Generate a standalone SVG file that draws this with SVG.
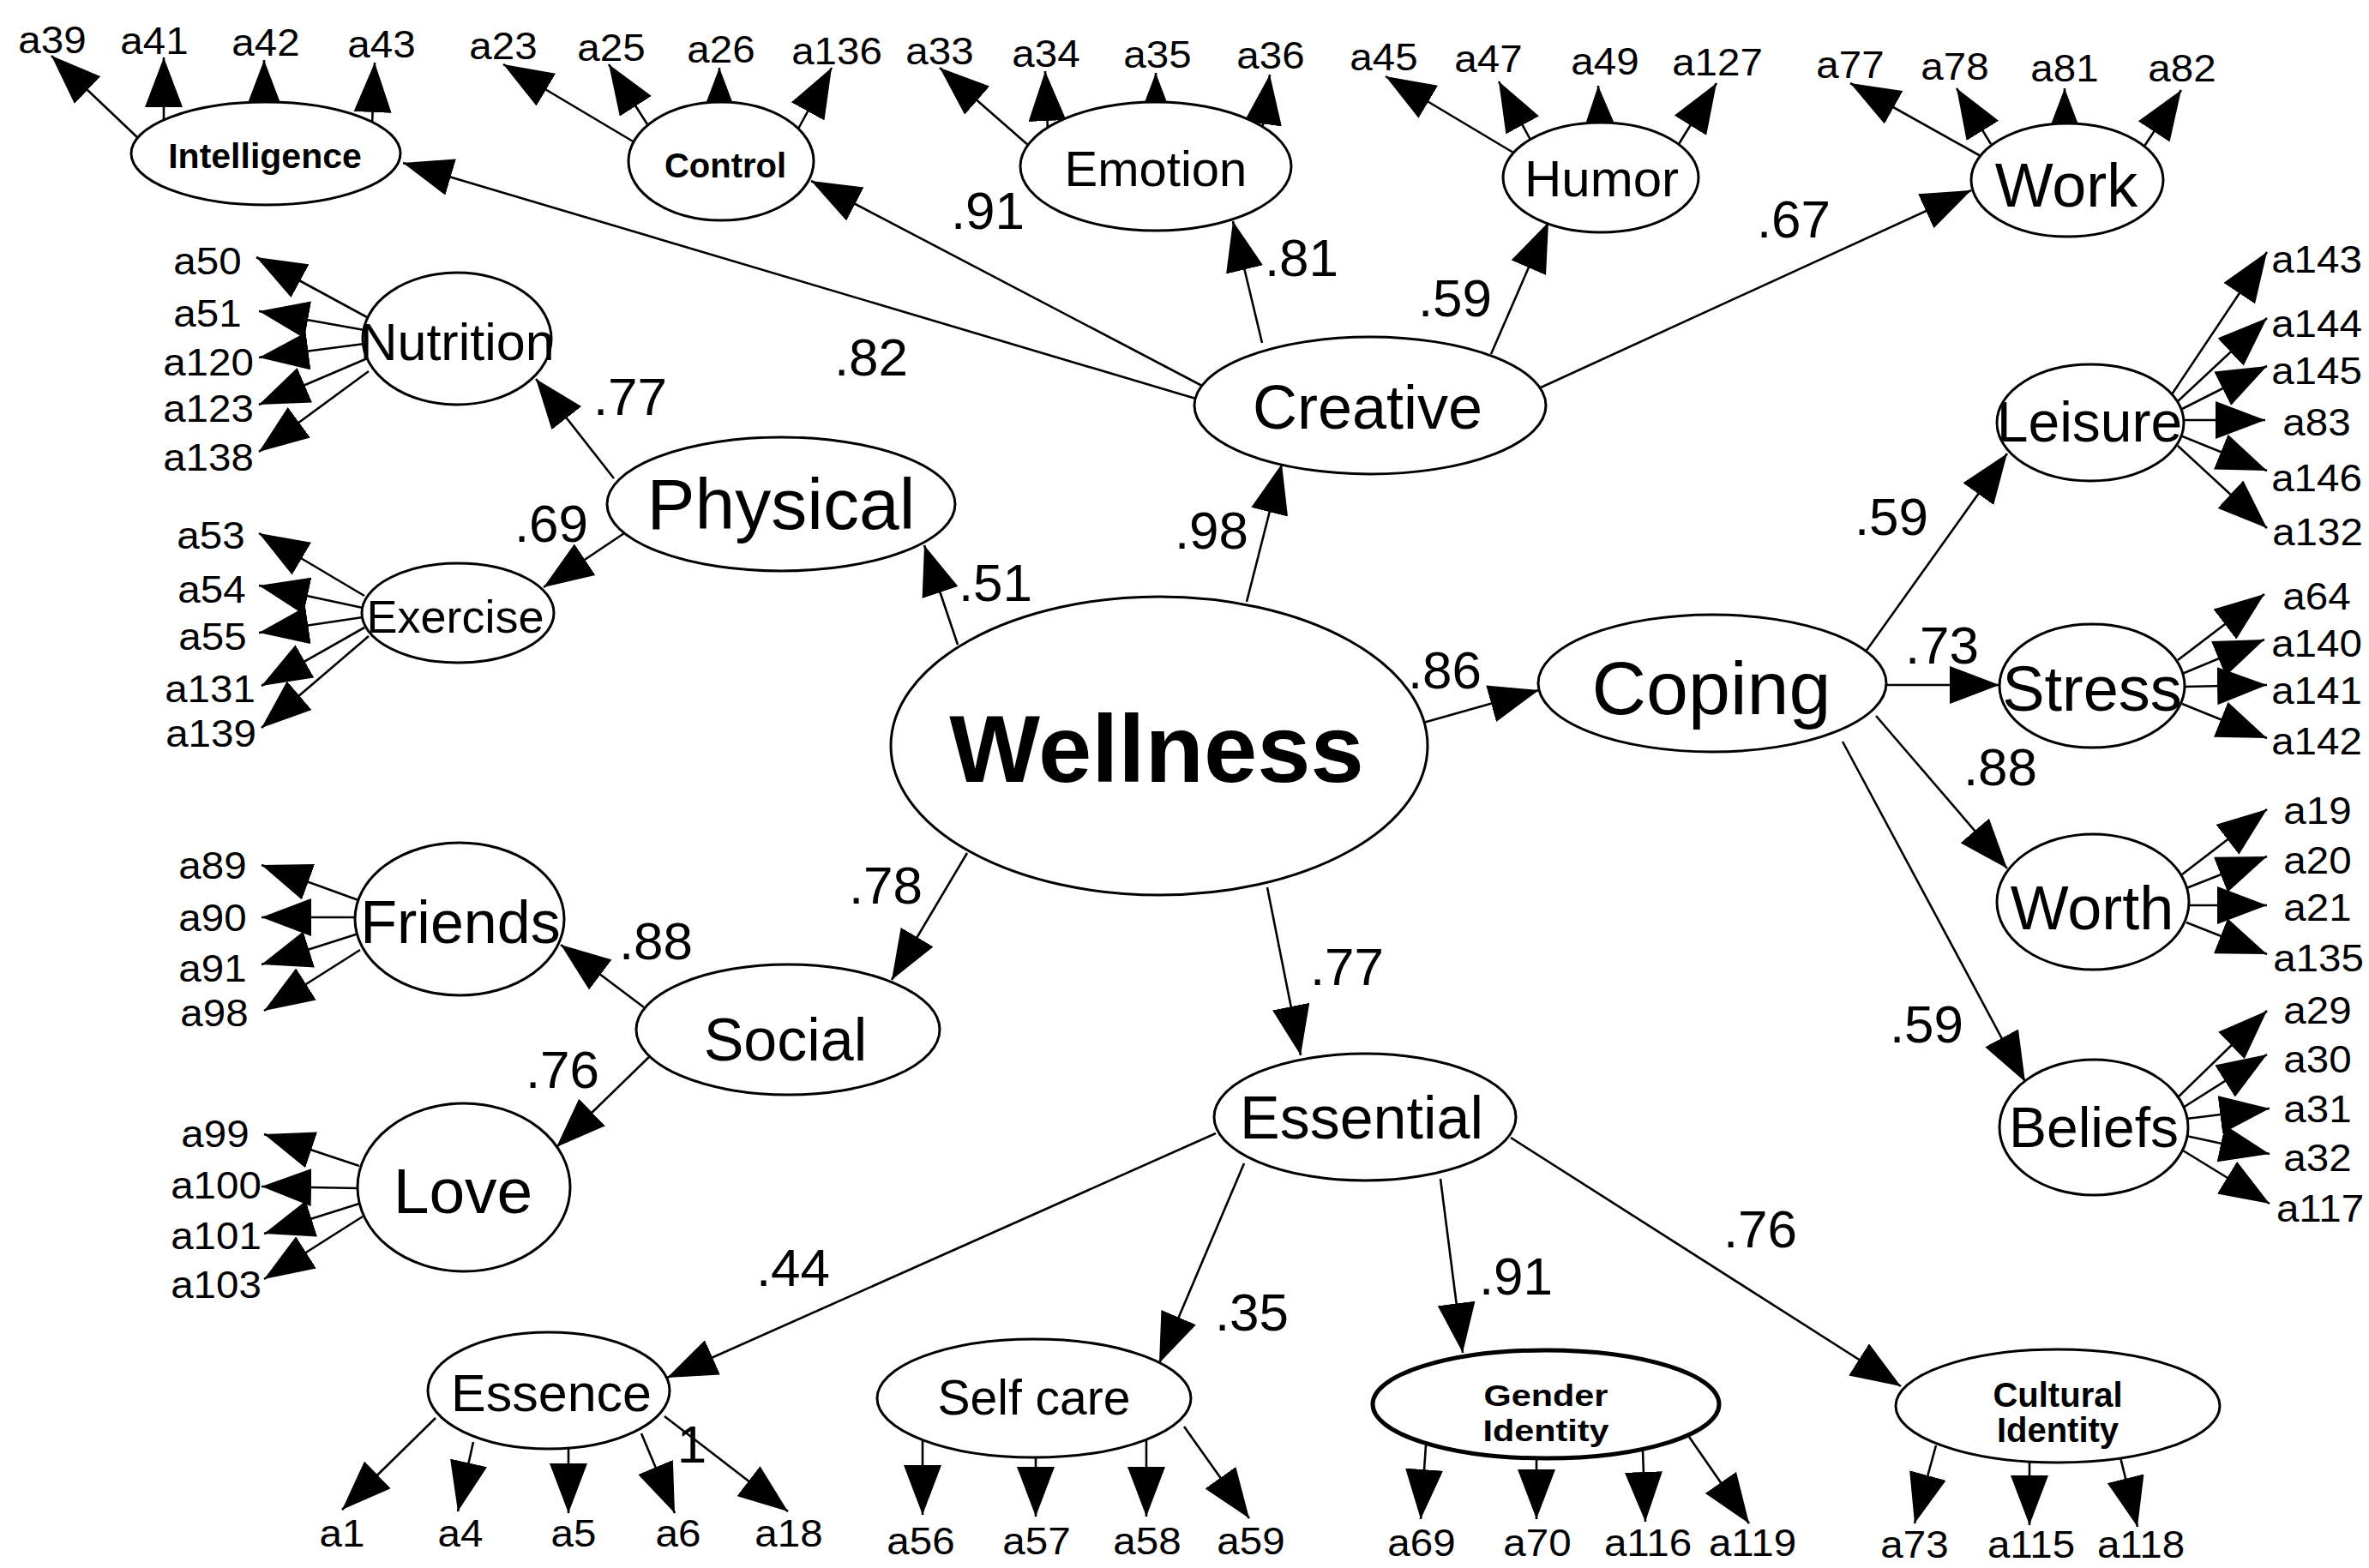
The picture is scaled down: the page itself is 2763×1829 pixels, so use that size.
<svg xmlns="http://www.w3.org/2000/svg" width="2763" height="1829" viewBox="0 0 2763 1829">
<style>
text{font-family:"Liberation Sans",Arial,sans-serif;fill:#000;text-anchor:middle}
.a{font-size:44px}
.l{font-size:62px}
.b{font-weight:bold}
.e{fill:#fff;stroke:#000;stroke-width:3}
.eg{fill:#fff;stroke:#000;stroke-width:5}
.c line{stroke:#000;stroke-width:2.6;marker-end:url(#ah)}
</style>
<defs>
<marker id="ah" viewBox="0 0 58 44" refX="58" refY="22" markerWidth="58" markerHeight="44" markerUnits="userSpaceOnUse" orient="auto"><path d="M0,0 L58,22 L0,44 z" fill="#000"/></marker>
</defs>
<rect width="2763" height="1829" fill="#fff"/>
<g id="connectors" class="c">
<line x1="1398" y1="466" x2="470" y2="190"/>
<line x1="1402" y1="450" x2="946" y2="211"/>
<line x1="1472" y1="400" x2="1438" y2="258"/>
<line x1="1739" y1="413" x2="1806" y2="259"/>
<line x1="1797" y1="452" x2="2299" y2="222"/>
<line x1="1454" y1="702" x2="1495" y2="541"/>
<line x1="1117" y1="752" x2="1078" y2="636"/>
<line x1="716" y1="558" x2="625" y2="442"/>
<line x1="728" y1="622" x2="634" y2="685"/>
<line x1="1660" y1="843" x2="1795" y2="805"/>
<line x1="1128" y1="995" x2="1040" y2="1143"/>
<line x1="751" y1="1175" x2="654" y2="1102"/>
<line x1="760" y1="1230" x2="649" y2="1338"/>
<line x1="1478" y1="1035" x2="1517" y2="1231"/>
<line x1="1418" y1="1322" x2="778" y2="1607"/>
<line x1="1451" y1="1357" x2="1352" y2="1590"/>
<line x1="1680" y1="1375" x2="1706" y2="1578"/>
<line x1="1762" y1="1327" x2="2217" y2="1617"/>
<line x1="2176" y1="760" x2="2341" y2="529"/>
<line x1="2199" y1="799" x2="2332" y2="799"/>
<line x1="2188" y1="835" x2="2341" y2="1013"/>
<line x1="2149" y1="865" x2="2362" y2="1262"/>
<line x1="162" y1="162" x2="60" y2="65"/>
<line x1="191" y1="142" x2="191" y2="67"/>
<line x1="308" y1="122" x2="308" y2="70"/>
<line x1="434" y1="145" x2="437" y2="73"/>
<line x1="740" y1="166" x2="587" y2="75"/>
<line x1="755" y1="145" x2="710" y2="75"/>
<line x1="839" y1="125" x2="839" y2="79"/>
<line x1="930" y1="152" x2="970" y2="79"/>
<line x1="1200" y1="170" x2="1096" y2="79"/>
<line x1="1222" y1="152" x2="1219" y2="83"/>
<line x1="1348" y1="125" x2="1348" y2="85"/>
<line x1="1472" y1="152" x2="1481" y2="87"/>
<line x1="1765" y1="178" x2="1616" y2="89"/>
<line x1="1785" y1="163" x2="1748" y2="95"/>
<line x1="1866" y1="148" x2="1864" y2="100"/>
<line x1="1958" y1="168" x2="2002" y2="97"/>
<line x1="2310" y1="182" x2="2158" y2="97"/>
<line x1="2322" y1="168" x2="2282" y2="103"/>
<line x1="2408" y1="150" x2="2408" y2="103"/>
<line x1="2500" y1="172" x2="2544" y2="105"/>
<line x1="428" y1="370" x2="299" y2="300"/>
<line x1="425" y1="385" x2="302" y2="363"/>
<line x1="425" y1="401" x2="302" y2="417"/>
<line x1="426" y1="419" x2="302" y2="472"/>
<line x1="430" y1="433" x2="302" y2="527"/>
<line x1="425" y1="695" x2="302" y2="622"/>
<line x1="423" y1="709" x2="302" y2="683"/>
<line x1="423" y1="720" x2="302" y2="738"/>
<line x1="425" y1="732" x2="305" y2="800"/>
<line x1="430" y1="742" x2="305" y2="849"/>
<line x1="418" y1="1050" x2="305" y2="1009"/>
<line x1="415" y1="1070" x2="305" y2="1070"/>
<line x1="415" y1="1090" x2="305" y2="1125"/>
<line x1="420" y1="1108" x2="308" y2="1179"/>
<line x1="419" y1="1360" x2="308" y2="1323"/>
<line x1="418" y1="1386" x2="305" y2="1384"/>
<line x1="419" y1="1404" x2="308" y2="1439"/>
<line x1="423" y1="1419" x2="308" y2="1492"/>
<line x1="508" y1="1654" x2="399" y2="1761"/>
<line x1="552" y1="1682" x2="534" y2="1763"/>
<line x1="663" y1="1688" x2="663" y2="1765"/>
<line x1="748" y1="1672" x2="787" y2="1765"/>
<line x1="775" y1="1652" x2="919" y2="1763"/>
<line x1="1076" y1="1678" x2="1076" y2="1767"/>
<line x1="1208" y1="1697" x2="1208" y2="1769"/>
<line x1="1337" y1="1680" x2="1337" y2="1769"/>
<line x1="1381" y1="1664" x2="1457" y2="1771"/>
<line x1="1663" y1="1686" x2="1657" y2="1772"/>
<line x1="1792" y1="1700" x2="1792" y2="1772"/>
<line x1="1916" y1="1692" x2="1919" y2="1775"/>
<line x1="1970" y1="1676" x2="2040" y2="1777"/>
<line x1="2258" y1="1686" x2="2233" y2="1777"/>
<line x1="2367" y1="1703" x2="2367" y2="1779"/>
<line x1="2473" y1="1700" x2="2493" y2="1781"/>
<line x1="2533" y1="460" x2="2644" y2="294"/>
<line x1="2540" y1="468" x2="2644" y2="371"/>
<line x1="2543" y1="478" x2="2644" y2="427"/>
<line x1="2546" y1="490" x2="2642" y2="490"/>
<line x1="2543" y1="508" x2="2644" y2="549"/>
<line x1="2540" y1="520" x2="2644" y2="616"/>
<line x1="2540" y1="770" x2="2641" y2="693"/>
<line x1="2545" y1="786" x2="2641" y2="746"/>
<line x1="2547" y1="801" x2="2644" y2="799"/>
<line x1="2545" y1="821" x2="2644" y2="861"/>
<line x1="2545" y1="1020" x2="2644" y2="944"/>
<line x1="2550" y1="1036" x2="2644" y2="999"/>
<line x1="2552" y1="1056" x2="2644" y2="1056"/>
<line x1="2550" y1="1076" x2="2644" y2="1113"/>
<line x1="2540" y1="1280" x2="2644" y2="1179"/>
<line x1="2546" y1="1292" x2="2644" y2="1230"/>
<line x1="2550" y1="1305" x2="2647" y2="1293"/>
<line x1="2550" y1="1325" x2="2647" y2="1346"/>
<line x1="2546" y1="1342" x2="2647" y2="1404"/>
</g>
<g id="loadings">
<text class="l" x="1016" y="438">.82</text>
<text class="l" x="1152" y="267">.91</text>
<text class="l" x="1518" y="322">.81</text>
<text class="l" x="1697" y="369">.59</text>
<text class="l" x="2092" y="277">.67</text>
<text class="l" x="735" y="484">.77</text>
<text class="l" x="643" y="632">.69</text>
<text class="l" x="1161" y="701">.51</text>
<text class="l" x="1413" y="640">.98</text>
<text class="l" x="1685" y="803">.86</text>
<text class="l" x="2206" y="624">.59</text>
<text class="l" x="2265" y="774">.73</text>
<text class="l" x="2333" y="916">.88</text>
<text class="l" x="2247" y="1216">.59</text>
<text class="l" x="1033" y="1054">.78</text>
<text class="l" x="765" y="1119">.88</text>
<text class="l" x="656" y="1269">.76</text>
<text class="l" x="1571" y="1149">.77</text>
<text class="l" x="925" y="1500">.44</text>
<text class="l" x="1460" y="1552">.35</text>
<text class="l" x="1768" y="1510">.91</text>
<text class="l" x="2053" y="1455">.76</text>
<text class="l" x="807" y="1706" font-size="58">1</text>
</g>
<g id="n-wellness"><ellipse class="e" cx="1352" cy="870" rx="313" ry="174"/><text class="b" x="1349" y="912" font-size="112">Wellness</text></g>
<g id="n-creative"><ellipse class="e" cx="1598" cy="473" rx="205" ry="80"/><text x="1595" y="500" font-size="72">Creative</text></g>
<g id="n-physical"><ellipse class="e" cx="911" cy="588" rx="203" ry="78"/><text x="911" y="617" font-size="84">Physical</text></g>
<g id="n-coping"><ellipse class="e" cx="1997" cy="797" rx="203" ry="80"/><text x="1996" y="833" font-size="88">Coping</text></g>
<g id="n-social"><ellipse class="e" cx="919" cy="1201" rx="177" ry="76"/><text x="916" y="1237" font-size="70">Social</text></g>
<g id="n-essential"><ellipse class="e" cx="1592" cy="1303" rx="176" ry="74"/><text x="1588" y="1328" font-size="70">Essential</text></g>
<g id="n-intelligence"><ellipse class="e" cx="310" cy="179" rx="157" ry="60"/><text class="b" x="309" y="196" font-size="41">Intelligence</text></g>
<g id="n-control"><ellipse class="e" cx="841" cy="188" rx="108" ry="69"/><text class="b" x="846" y="207" font-size="40">Control</text></g>
<g id="n-emotion"><ellipse class="e" cx="1348" cy="194" rx="158" ry="75"/><text x="1348" y="217" font-size="58">Emotion</text></g>
<g id="n-humor"><ellipse class="e" cx="1867" cy="207" rx="114" ry="64"/><text x="1868" y="229" font-size="60">Humor</text></g>
<g id="n-work"><ellipse class="e" cx="2411" cy="210" rx="112" ry="66"/><text x="2410" y="241" font-size="72">Work</text></g>
<g id="n-nutrition"><ellipse class="e" cx="533" cy="395" rx="110" ry="77"/><text x="533" y="420" font-size="61">Nutrition</text></g>
<g id="n-exercise"><ellipse class="e" cx="534" cy="715" rx="112" ry="58"/><text x="531" y="738" font-size="54">Exercise</text></g>
<g id="n-friends"><ellipse class="e" cx="536" cy="1072" rx="122" ry="89"/><text x="537" y="1100" font-size="70">Friends</text></g>
<g id="n-love"><ellipse class="e" cx="541" cy="1385" rx="124" ry="98"/><text x="540" y="1415" font-size="75">Love</text></g>
<g id="n-leisure"><ellipse class="e" cx="2438" cy="493" rx="109" ry="68"/><text x="2437" y="515" font-size="66">Leisure</text></g>
<g id="n-stress"><ellipse class="e" cx="2440" cy="800" rx="108" ry="72"/><text x="2440" y="829" font-size="74">Stress</text></g>
<g id="n-worth"><ellipse class="e" cx="2441" cy="1052" rx="112" ry="79"/><text x="2440" y="1084" font-size="72">Worth</text></g>
<g id="n-beliefs"><ellipse class="e" cx="2442" cy="1315" rx="110" ry="79"/><text x="2442" y="1338" font-size="66">Beliefs</text></g>
<g id="n-essence"><ellipse class="e" cx="640" cy="1622" rx="141" ry="68"/><text x="643" y="1646" font-size="61">Essence</text></g>
<g id="n-selfcare"><ellipse class="e" cx="1206" cy="1631" rx="183" ry="69"/><text x="1206" y="1650" font-size="57">Self care</text></g>
<g id="n-gender"><ellipse class="eg" cx="1803" cy="1638" rx="202" ry="63"/><text class="b" font-size="36" transform="translate(1803,1640) scale(1.15,1)">Gender</text><text class="b" font-size="36" transform="translate(1803,1681) scale(1.15,1)">Identity</text></g>
<g id="n-cultural"><ellipse class="e" cx="2400" cy="1640" rx="189" ry="66"/><text class="b" x="2400" y="1641" font-size="40">Cultural</text><text class="b" x="2400" y="1682" font-size="40">Identity</text></g>
<g id="indicators">
<g id="i-a39"><text class="a" transform="translate(61,62) scale(1.08,1)">a39</text></g>
<g id="i-a41"><text class="a" transform="translate(180,63) scale(1.08,1)">a41</text></g>
<g id="i-a42"><text class="a" transform="translate(310,65) scale(1.08,1)">a42</text></g>
<g id="i-a43"><text class="a" transform="translate(445,67) scale(1.08,1)">a43</text></g>
<g id="i-a23"><text class="a" transform="translate(587,69) scale(1.08,1)">a23</text></g>
<g id="i-a25"><text class="a" transform="translate(713,71) scale(1.08,1)">a25</text></g>
<g id="i-a26"><text class="a" transform="translate(841,73) scale(1.08,1)">a26</text></g>
<g id="i-a136"><text class="a" transform="translate(976,75) scale(1.08,1)">a136</text></g>
<g id="i-a33"><text class="a" transform="translate(1096,75) scale(1.08,1)">a33</text></g>
<g id="i-a34"><text class="a" transform="translate(1220,78) scale(1.08,1)">a34</text></g>
<g id="i-a35"><text class="a" transform="translate(1350,79) scale(1.08,1)">a35</text></g>
<g id="i-a36"><text class="a" transform="translate(1482,80) scale(1.08,1)">a36</text></g>
<g id="i-a45"><text class="a" transform="translate(1614,82) scale(1.08,1)">a45</text></g>
<g id="i-a47"><text class="a" transform="translate(1736,84) scale(1.08,1)">a47</text></g>
<g id="i-a49"><text class="a" transform="translate(1872,87) scale(1.08,1)">a49</text></g>
<g id="i-a127"><text class="a" transform="translate(2003,88) scale(1.08,1)">a127</text></g>
<g id="i-a77"><text class="a" transform="translate(2158,91) scale(1.08,1)">a77</text></g>
<g id="i-a78"><text class="a" transform="translate(2280,93) scale(1.08,1)">a78</text></g>
<g id="i-a81"><text class="a" transform="translate(2408,95) scale(1.08,1)">a81</text></g>
<g id="i-a82"><text class="a" transform="translate(2545,95) scale(1.08,1)">a82</text></g>
<g id="i-a50"><text class="a" transform="translate(242,320) scale(1.08,1)">a50</text></g>
<g id="i-a51"><text class="a" transform="translate(242,381) scale(1.08,1)">a51</text></g>
<g id="i-a120"><text class="a" transform="translate(243,438) scale(1.08,1)">a120</text></g>
<g id="i-a123"><text class="a" transform="translate(243,492) scale(1.08,1)">a123</text></g>
<g id="i-a138"><text class="a" transform="translate(243,549) scale(1.08,1)">a138</text></g>
<g id="i-a53"><text class="a" transform="translate(246,640) scale(1.08,1)">a53</text></g>
<g id="i-a54"><text class="a" transform="translate(247,703) scale(1.08,1)">a54</text></g>
<g id="i-a55"><text class="a" transform="translate(248,758) scale(1.08,1)">a55</text></g>
<g id="i-a131"><text class="a" transform="translate(245,819) scale(1.08,1)">a131</text></g>
<g id="i-a139"><text class="a" transform="translate(246,871) scale(1.08,1)">a139</text></g>
<g id="i-a89"><text class="a" transform="translate(248,1025) scale(1.08,1)">a89</text></g>
<g id="i-a90"><text class="a" transform="translate(248,1086) scale(1.08,1)">a90</text></g>
<g id="i-a91"><text class="a" transform="translate(248,1145) scale(1.08,1)">a91</text></g>
<g id="i-a98"><text class="a" transform="translate(250,1197) scale(1.08,1)">a98</text></g>
<g id="i-a99"><text class="a" transform="translate(251,1338) scale(1.08,1)">a99</text></g>
<g id="i-a100"><text class="a" transform="translate(252,1398) scale(1.08,1)">a100</text></g>
<g id="i-a101"><text class="a" transform="translate(252,1457) scale(1.08,1)">a101</text></g>
<g id="i-a103"><text class="a" transform="translate(252,1514) scale(1.08,1)">a103</text></g>
<g id="i-a143"><text class="a" transform="translate(2702,318) scale(1.08,1)">a143</text></g>
<g id="i-a144"><text class="a" transform="translate(2702,393) scale(1.08,1)">a144</text></g>
<g id="i-a145"><text class="a" transform="translate(2702,448) scale(1.08,1)">a145</text></g>
<g id="i-a83"><text class="a" transform="translate(2702,508) scale(1.08,1)">a83</text></g>
<g id="i-a146"><text class="a" transform="translate(2702,573) scale(1.08,1)">a146</text></g>
<g id="i-a132"><text class="a" transform="translate(2703,636) scale(1.08,1)">a132</text></g>
<g id="i-a64"><text class="a" transform="translate(2702,711) scale(1.08,1)">a64</text></g>
<g id="i-a140"><text class="a" transform="translate(2702,766) scale(1.08,1)">a140</text></g>
<g id="i-a141"><text class="a" transform="translate(2702,821) scale(1.08,1)">a141</text></g>
<g id="i-a142"><text class="a" transform="translate(2702,880) scale(1.08,1)">a142</text></g>
<g id="i-a19"><text class="a" transform="translate(2703,961) scale(1.08,1)">a19</text></g>
<g id="i-a20"><text class="a" transform="translate(2703,1019) scale(1.08,1)">a20</text></g>
<g id="i-a21"><text class="a" transform="translate(2703,1074) scale(1.08,1)">a21</text></g>
<g id="i-a135"><text class="a" transform="translate(2704,1133) scale(1.08,1)">a135</text></g>
<g id="i-a29"><text class="a" transform="translate(2703,1194) scale(1.08,1)">a29</text></g>
<g id="i-a30"><text class="a" transform="translate(2703,1251) scale(1.08,1)">a30</text></g>
<g id="i-a31"><text class="a" transform="translate(2703,1309) scale(1.08,1)">a31</text></g>
<g id="i-a32"><text class="a" transform="translate(2703,1366) scale(1.08,1)">a32</text></g>
<g id="i-a117"><text class="a" transform="translate(2706,1425) scale(1.08,1)">a117</text></g>
<g id="i-a1"><text class="a" transform="translate(399,1804) scale(1.08,1)">a1</text></g>
<g id="i-a4"><text class="a" transform="translate(537,1804) scale(1.08,1)">a4</text></g>
<g id="i-a5"><text class="a" transform="translate(669,1804) scale(1.08,1)">a5</text></g>
<g id="i-a6"><text class="a" transform="translate(791,1804) scale(1.08,1)">a6</text></g>
<g id="i-a18"><text class="a" transform="translate(920,1804) scale(1.08,1)">a18</text></g>
<g id="i-a56"><text class="a" transform="translate(1074,1813) scale(1.08,1)">a56</text></g>
<g id="i-a57"><text class="a" transform="translate(1209,1813) scale(1.08,1)">a57</text></g>
<g id="i-a58"><text class="a" transform="translate(1338,1813) scale(1.08,1)">a58</text></g>
<g id="i-a59"><text class="a" transform="translate(1459,1813) scale(1.08,1)">a59</text></g>
<g id="i-a69"><text class="a" transform="translate(1658,1815) scale(1.08,1)">a69</text></g>
<g id="i-a70"><text class="a" transform="translate(1793,1815) scale(1.08,1)">a70</text></g>
<g id="i-a116"><text class="a" transform="translate(1922,1815) scale(1.08,1)">a116</text></g>
<g id="i-a119"><text class="a" transform="translate(2044,1815) scale(1.08,1)">a119</text></g>
<g id="i-a73"><text class="a" transform="translate(2233,1817) scale(1.08,1)">a73</text></g>
<g id="i-a115"><text class="a" transform="translate(2369,1817) scale(1.08,1)">a115</text></g>
<g id="i-a118"><text class="a" transform="translate(2497,1817) scale(1.08,1)">a118</text></g>
</g>
</svg>
